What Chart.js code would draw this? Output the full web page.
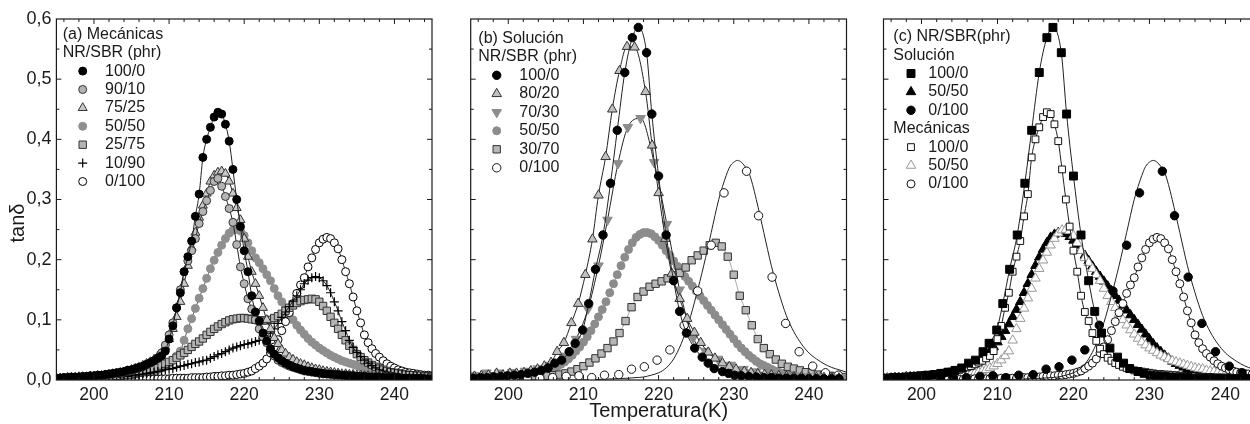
<!DOCTYPE html>
<html>
<head>
<meta charset="utf-8">
<script src="https://cdn.jsdelivr.net/npm/chart.js@4.4.1/dist/chart.umd.min.js"></script>
<style>
  html, body { margin: 0; padding: 0; background: #fff; width: 1250px; height: 424px; overflow: hidden; }
  .panel { position: absolute; top: 0; }
</style>
</head>
<body>
<canvas class="panel" id="panelA" width="440" height="424" style="left:0px"></canvas>
<canvas class="panel" id="panelB" width="410" height="424" style="left:450px"></canvas>
<canvas class="panel" id="panelC" width="400" height="424" style="left:870px"></canvas>
<script>
const FONT = '"Liberation Sans", Arial, sans-serif';

// axis ticks
const xTicks = [200, 210, 220, 230, 240];
const yTicks = [0, 0.1, 0.2, 0.3, 0.4, 0.5, 0.6];

// fine temperature grid (K), every 0.5 K
const tempFine = [
  195,195.5,196,196.5,197,197.5,198,198.5,199,199.5,
  200,200.5,201,201.5,202,202.5,203,203.5,204,204.5,
  205,205.5,206,206.5,207,207.5,208,208.5,209,209.5,
  210,210.5,211,211.5,212,212.5,213,213.5,214,214.5,
  215,215.5,216,216.5,217,217.5,218,218.5,219,219.5,
  220,220.5,221,221.5,222,222.5,223,223.5,224,224.5,
  225,225.5,226,226.5,227,227.5,228,228.5,229,229.5,
  230,230.5,231,231.5,232,232.5,233,233.5,234,234.5,
  235,235.5,236,236.5,237,237.5,238,238.5,239,239.5,
  240,240.5,241,241.5,242,242.5,243,243.5,244,244.5,245];

// (a) mezclas mecánicas, tan delta on tempFine
const mec100_0 = [
  .003,.003,.004,.004,.005,.005,.005,.006,.006,.007,
  .007,.008,.008,.009,.010,.011,.012,.013,.014,.016,
  .017,.019,.021,.023,.026,.029,.032,.036,.040,.048,
  .068,.090,.120,.145,.180,.205,.231,.272,.309,.370,
  .400,.420,.437,.445,.442,.425,.397,.350,.300,.255,
  .215,.180,.140,.113,.098,.078,.065,.052,.043,.037,
  .032,.028,.025,.022,.020,.018,.016,.015,.014,.013,
  .012,.011,.010,.010,.009,.009,.008,.008,.007,.007,
  .006,.006,.006,.005,.005,.005,.005,.004,.004,.004,
  .004,.004,.003,.003,.003,.003,.003,.003,.002,.002,.002];
const mec90_10 = [
  .003,.003,.003,.004,.004,.004,.005,.005,.005,.006,
  .006,.007,.007,.008,.009,.010,.011,.012,.013,.015,
  .016,.018,.020,.022,.025,.028,.032,.037,.045,.058,
  .075,.095,.120,.150,.180,.198,.215,.235,.260,.280,
  .298,.315,.330,.335,.322,.305,.285,.262,.225,.188,
  .160,.135,.118,.100,.085,.072,.062,.050,.040,.033,
  .029,.026,.023,.021,.019,.017,.015,.014,.013,.012,
  .011,.010,.010,.009,.009,.008,.008,.007,.007,.007,
  .006,.006,.006,.005,.005,.005,.005,.004,.004,.004,
  .004,.004,.003,.003,.003,.003,.003,.003,.002,.002,.002];
const mec75_25 = [
  .003,.003,.003,.004,.004,.004,.005,.005,.005,.006,
  .006,.007,.007,.008,.009,.010,.011,.012,.013,.015,
  .017,.019,.021,.024,.027,.030,.034,.039,.045,.055,
  .068,.085,.105,.130,.160,.190,.220,.245,.270,.290,
  .310,.330,.340,.345,.347,.343,.330,.310,.286,.266,
  .235,.205,.180,.160,.140,.120,.100,.085,.070,.060,
  .050,.044,.038,.034,.030,.027,.025,.022,.020,.018,
  .017,.015,.014,.013,.012,.011,.010,.010,.009,.009,
  .008,.008,.007,.007,.006,.006,.006,.005,.005,.005,
  .004,.004,.004,.004,.003,.003,.003,.003,.003,.003,.003];
const mec50_50 = [
  .002,.002,.002,.003,.003,.003,.003,.004,.004,.004,
  .004,.004,.005,.005,.005,.006,.006,.006,.007,.007,
  .007,.008,.009,.010,.011,.013,.015,.017,.020,.023,
  .027,.033,.040,.048,.066,.085,.102,.119,.136,.152,
  .169,.185,.199,.212,.224,.235,.244,.249,.250,.248,
  .240,.228,.215,.203,.195,.185,.175,.165,.152,.140,
  .130,.120,.110,.100,.091,.083,.076,.069,.063,.058,
  .053,.049,.045,.041,.038,.035,.032,.030,.028,.026,
  .024,.022,.020,.019,.018,.016,.015,.014,.013,.012,
  .011,.010,.010,.009,.008,.008,.007,.007,.006,.006,.005];
const mec25_75 = [
  .002,.002,.002,.003,.003,.003,.003,.004,.004,.004,
  .004,.005,.005,.005,.006,.006,.007,.007,.008,.009,
  .009,.010,.012,.013,.015,.017,.019,.021,.024,.027,
  .030,.033,.037,.041,.045,.050,.055,.060,.064,.069,
  .075,.080,.085,.089,.093,.096,.099,.101,.102,.103,
  .103,.102,.101,.100,.099,.099,.099,.100,.103,.106,
  .110,.115,.120,.124,.128,.131,.133,.134,.135,.134,
  .130,.123,.115,.105,.095,.085,.075,.066,.057,.050,
  .043,.038,.033,.029,.025,.022,.019,.017,.015,.013,
  .012,.011,.010,.009,.008,.008,.007,.007,.006,.006,.005];
const mec10_90 = [
  .001,.001,.001,.002,.002,.002,.002,.002,.003,.003,
  .003,.003,.004,.004,.004,.005,.005,.005,.006,.006,
  .007,.008,.009,.010,.011,.012,.013,.014,.015,.017,
  .018,.019,.021,.023,.024,.026,.027,.029,.030,.032,
  .033,.036,.039,.042,.044,.047,.050,.053,.055,.057,
  .059,.060,.062,.064,.066,.069,.073,.078,.085,.094,
  .104,.113,.122,.131,.140,.150,.160,.166,.170,.172,
  .170,.165,.157,.145,.130,.115,.097,.082,.066,.054,
  .046,.039,.033,.028,.024,.020,.017,.015,.013,.012,
  .011,.010,.009,.008,.007,.007,.006,.006,.005,.005,.005];
const mec0_100 = [
  .001,.001,.001,.001,.001,.001,.001,.001,.001,.001,
  .001,.001,.001,.001,.001,.001,.001,.001,.001,.001,
  .001,.001,.001,.002,.002,.002,.002,.002,.002,.002,
  .002,.003,.003,.003,.003,.003,.004,.004,.004,.004,
  .005,.005,.006,.006,.007,.007,.008,.008,.009,.010,
  .011,.013,.015,.019,.023,.028,.035,.045,.055,.067,
  .082,.097,.112,.127,.144,.158,.170,.188,.203,.217,
  .228,.234,.237,.235,.228,.218,.200,.180,.160,.138,
  .115,.095,.075,.062,.052,.044,.038,.032,.027,.023,
  .020,.017,.015,.013,.012,.011,.010,.009,.008,.008,.007];

// (b) mezclas en solución
const solT100 = [195.4,196.3,197.2,198.1,199,199.9,200.8,201.7,202.6,203.5,204.4,205.3,206.2,207.1,208.1,208.9,209.9,210.7,211.6,212.6,213.6,214.5,215.5,216.5,217.3,218.4,219.1,220,221,222,222.8,223.7,224.8,225.8,226.6,227.4,228.5,229.3,230.1,231,232,233,234,235,236,237,238,239,240,241,242,243,244];
const sol100_0 = [.003,.004,.004,.005,.006,.007,.008,.009,.011,.013,.016,.020,.028,.033,.047,.061,.083,.127,.184,.241,.327,.415,.511,.569,.586,.544,.442,.339,.241,.165,.114,.078,.053,.038,.028,.019,.014,.011,.008,.007,.006,.005,.004,.004,.003,.003,.003,.003,.002,.002,.002,.002,.002];
const solT80 = [195.5,196.4,197.35,198.45,199.3,200.2,201.1,202.1,203,203.9,204.8,205.7,206.5,207.4,208.4,209.3,210.25,211.2,212,212.95,213.84,214.8,215.8,216.8,218.26,219.14,220,220.9,221.75,222.8,223.8,224.76,225.6,226.6,227.5,228.5,229.4,230.3,231.4,232.3,233.2,234.1,235,236,237,238,239,240,241,242,243,244];
const sol80_20 = [.006,.007,.008,.011,.008,.011,.011,.012,.015,.018,.023,.029,.047,.062,.095,.127,.175,.234,.307,.371,.450,.514,.554,.553,.479,.390,.311,.235,.177,.135,.102,.079,.062,.046,.036,.028,.022,.018,.014,.012,.010,.009,.008,.007,.006,.005,.005,.004,.004,.004,.003,.003];
const solT70 = [195.4,197.1,198.8,200.5,202.2,203.9,205.6,207.3,209,210.6,212,213.2,214.6,215.9,217.6,219.4,221.1,222.8,224.6,226.2,227.9,229.6,231.3,233,234.7,236.4,238.1,239.8,241.5,243.2,244.9];
const sol70_30 = [.008,.012,.012,.013,.015,.019,.025,.040,.068,.118,.190,.266,.360,.420,.435,.362,.259,.150,.070,.048,.035,.025,.018,.014,.011,.009,.007,.006,.005,.004,.004];
const sol50_50 = [
  .003,.003,.003,.004,.004,.004,.005,.005,.005,.005,
  .005,.006,.006,.007,.008,.009,.010,.011,.012,.014,
  .014,.016,.019,.022,.026,.030,.035,.041,.048,.055,
  .063,.072,.082,.093,.105,.117,.130,.145,.160,.175,
  .190,.204,.217,.228,.237,.242,.245,.245,.243,.238,
  .232,.224,.215,.207,.198,.189,.180,.172,.164,.156,
  .148,.140,.132,.124,.116,.108,.100,.092,.084,.076,
  .068,.060,.053,.047,.041,.036,.031,.027,.024,.021,
  .018,.015,.013,.011,.010,.009,.008,.007,.006,.006,
  .005,.005,.005,.004,.004,.004,.004,.003,.003,.003,.003];
const solT30 = [195.6,196.4,197.2,198,198.8,199.6,200.4,201.2,202,202.8,203.6,204.4,205.2,206,206.8,207.6,208.4,209.2,210,210.8,211.6,212.4,213.2,214,214.8,215.6,216.4,217.2,218,218.8,219.6,220.4,221.2,222,222.8,223.6,224.4,225.2,226,226.8,227.6,228.4,229.2,230,230.8,231.6,232.4,233.2,234,234.8,235.6,236.4,237.2,238,238.8,239.6,240.4,241.2,242,242.8,243.6,244.4];
const sol30_70 = [.002,.002,.002,.003,.003,.003,.004,.004,.004,.005,.005,.006,.007,.008,.009,.011,.014,.018,.023,.029,.036,.044,.053,.064,.078,.098,.121,.138,.147,.155,.160,.164,.169,.174,.178,.187,.199,.207,.215,.224,.228,.222,.205,.175,.140,.116,.091,.068,.053,.043,.034,.027,.022,.019,.016,.013,.011,.009,.008,.007,.006,.005];
const solT0 = [195.6,197.3,199,200.7,202.5,204.2,205.9,207.7,209.4,211.1,212.8,214.7,216.4,218.1,219.8,221.5,223.4,225.2,227,228.7,231.7,233.3,235.1,236.9,238.7,240.5,242.2,243.9];
const sol0_100 = [.001,.001,.002,.002,.002,.003,.004,.006,.007,.004,.008,.009,.018,.022,.033,.050,.091,.148,.224,.311,.347,.273,.171,.094,.047,.023,.012,.008];
// fitted curve drawn through the 0/100 solution points
const fitT0 = [195,205,210,212,214,216,217,218,219,220,221,222,223,224,225,226,227,228,229,229.5,230,230.5,231,231.5,232,232.5,233,234,235,236,237,238,239,240,241,242,243,244,245];
const fit0_100 = [0,0,0,.001,.002,.003,.004,.005,.008,.012,.020,.035,.060,.095,.140,.190,.245,.300,.340,.355,.362,.365,.362,.355,.345,.325,.300,.245,.190,.145,.107,.080,.060,.045,.035,.027,.021,.017,.013];

function series(t, v, m, line) {
  return {
    data: t.map((x, i) => ({ x: x, y: v[i] })),
    showLine: !!line,
    borderColor: line || '#000',
    borderWidth: 1,
    cubicInterpolationMode: 'monotone',
    fill: false,
    pointStyle: m ? m.style : 'circle',
    pointRadius: m ? m.r : 0,
    pointRotation: m && m.rot ? m.rot : 0,
    pointBackgroundColor: m ? m.fill : '#000',
    pointBorderColor: m ? m.stroke : '#000',
    pointBorderWidth: m ? m.bw : 0
  };
}

const framePlugin = {
  id: 'frame',
  afterDatasetsDraw(chart, args, o) {
    const ctx = chart.ctx, a = chart.chartArea;
    const xs = chart.scales.x, ys = chart.scales.y;
    ctx.save();
    ctx.strokeStyle = '#1a1a1a';
    ctx.lineWidth = 1.2;
    ctx.strokeRect(a.left, a.top, a.right - a.left, a.bottom - a.top);
    ctx.lineWidth = 1;
    ctx.beginPath();
    for (let t = 196; t <= 244; t += 2) {
      const px = xs.getPixelForValue(t);
      const len = t % 10 === 0 ? 5 : 3;
      ctx.moveTo(px, a.bottom); ctx.lineTo(px, a.bottom - len);
      ctx.moveTo(px, a.top); ctx.lineTo(px, a.top + len);
    }
    for (let k = 1; k < 12; k++) {
      const py = ys.getPixelForValue(k * 0.05);
      const len = k % 2 === 0 ? 5 : 3;
      ctx.moveTo(a.left, py); ctx.lineTo(a.left + len, py);
      ctx.moveTo(a.right, py); ctx.lineTo(a.right - len, py);
    }
    ctx.stroke();

    ctx.font = '16px ' + FONT;
    ctx.textBaseline = 'middle';
    ctx.textAlign = 'left';
    ctx.fillStyle = '#1a1a1a';
    o.legend.forEach((it, k) => {
      const yy = o.top + k * o.step;
      if (it.ds === undefined) {
        ctx.fillText(it.text, a.left + o.headX, yy);
        return;
      }
      ctx.fillText(it.text, a.left + o.textX, yy);
      const p = chart.getDatasetMeta(it.ds).data[0].options;
      ctx.save();
      ctx.fillStyle = p.backgroundColor;
      ctx.strokeStyle = p.borderColor;
      ctx.lineWidth = p.borderWidth;
      Chart.helpers.drawPoint(ctx, { pointStyle: p.pointStyle, rotation: p.rotation, radius: p.radius, borderWidth: p.borderWidth }, a.left + o.markX, yy);
      ctx.restore();
    });

    if (o.yTitle) {
      ctx.translate(18, 223);
      ctx.rotate(-Math.PI / 2);
      ctx.textAlign = 'center';
      ctx.font = '20px ' + FONT;
      ctx.fillText(o.yTitle, 0, 0);
    }
    ctx.restore();
  }
};

function makePanel(id, datasets, cfg) {
  return new Chart(document.getElementById(id), {
    type: 'line',
    data: { datasets: datasets },
    options: {
      responsive: false,
      animation: false,
      events: [],
      layout: { padding: { left: 0, right: cfg.padRight, top: 19, bottom: 0 } },
      plugins: {
        legend: { display: false },
        tooltip: { enabled: false },
        frame: cfg.frame
      },
      scales: {
        x: {
          type: 'linear', min: 195, max: 245,
          afterBuildTicks: s => { s.ticks = xTicks.map(v => ({ value: v })); },
          afterFit: s => { s.height = 44; },
          grid: { display: false, drawTicks: false },
          border: { display: false },
          ticks: { color: '#1a1a1a', padding: 5, font: { family: FONT, size: 17.5 } },
          title: {
            display: !!cfg.xTitle, text: cfg.xTitle || '', color: '#1a1a1a',
            padding: { top: 0, bottom: 1 }, font: { family: FONT, size: 20 }
          }
        },
        y: {
          type: 'linear', min: 0, max: 0.6,
          afterBuildTicks: s => { s.ticks = yTicks.map(v => ({ value: v })); },
          afterFit: s => { s.width = cfg.yWidth; },
          grid: { display: false, drawTicks: false },
          border: { display: false },
          ticks: {
            display: cfg.yLabels, color: '#1a1a1a', padding: 5,
            font: { family: FONT, size: 18 },
            callback: v => v.toFixed(1).replace('.', ',')
          }
        }
      }
    },
    plugins: [framePlugin]
  });
}

// styles
const BLACK = '#000', DARK = '#222';
const mk = (style, r, fill, stroke, bw, rot) => ({ style, r, fill, stroke, bw, rot });

// panel (a)
makePanel('panelA', [
  series(tempFine, mec100_0, mk('circle', 4, BLACK, BLACK, 1), DARK),
  series(tempFine, mec90_10, mk('circle', 4, '#b4b4b4', '#333', 1), DARK),
  series(tempFine, mec75_25, mk('triangle', 5.2, '#c8c8c8', '#333', 1), DARK),
  series(tempFine, mec10_90, mk('cross', 4.5, BLACK, BLACK, 1.2), DARK),
  series(tempFine, mec25_75, mk('rect', 5.2, '#b4b4b4', '#333', 1), DARK),
  series(tempFine, mec0_100, mk('circle', 4, '#fff', BLACK, 1), DARK),
  series(tempFine, mec50_50, mk('circle', 4, '#8f8f8f', '#8f8f8f', 1), '#555')
], {
  padRight: 8, yWidth: 56.4, yLabels: true,
  frame: {
    top: 34.3, step: 18.4, headX: 6.3, markX: 26.3, textX: 48.6, yTitle: 'tanδ',
    legend: [
      { text: '(a) Mecánicas' }, { text: 'NR/SBR (phr)' },
      { text: '100/0', ds: 0 }, { text: '90/10', ds: 1 }, { text: '75/25', ds: 2 },
      { text: '50/50', ds: 6 }, { text: '25/75', ds: 4 }, { text: '10/90', ds: 3 },
      { text: '0/100', ds: 5 }
    ]
  }
});

// panel (b)
makePanel('panelB', [
  series(solT100, sol100_0, mk('circle', 4.2, BLACK, BLACK, 1), DARK),
  series(solT80, sol80_20, mk('triangle', 5.5, '#c0c0c0', '#333', 1), DARK),
  series(solT70, sol70_30, mk('triangle', 5.5, '#8c8c8c', '#8c8c8c', 1, 180), DARK),
  series(solT0, sol0_100, mk('circle', 4.2, '#fff', '#111', 1), null),
  series(fitT0, fit0_100, null, DARK),
  series(solT30, sol30_70, mk('rect', 5.2, '#b8b8b8', '#333', 1), '#aaa'),
  series(tempFine, sol50_50, mk('circle', 4, '#8c8c8c', '#8c8c8c', 1), '#999')
], {
  padRight: 13.5, yWidth: 20.7, yLabels: false, xTitle: 'Temperatura(K)',
  frame: {
    top: 38.3, step: 18.5, headX: 7.6, markX: 26, textX: 48.6,
    legend: [
      { text: '(b) Solución' }, { text: 'NR/SBR (phr)' },
      { text: '100/0', ds: 0 }, { text: '80/20', ds: 1 }, { text: '70/30', ds: 2 },
      { text: '50/50', ds: 6 }, { text: '30/70', ds: 5 }, { text: '0/100', ds: 3 }
    ]
  }
});

// panel (c)
makePanel('panelC', [
  series(solT100, sol100_0, mk('rect', 5.6, BLACK, BLACK, 1), DARK),
  series(tempFine, mec100_0, mk('rect', 4.8, '#fff', '#111', 1), DARK),
  series(solT0, sol0_100, mk('circle', 4.2, BLACK, BLACK, 1), null),
  series(fitT0, fit0_100, null, DARK),
  series(tempFine, mec0_100, mk('circle', 4, '#fff', '#111', 1), DARK),
  series(tempFine, mec50_50, mk('triangle', 5.5, '#fff', '#999', 1), null),
  series(tempFine, sol50_50, mk('triangle', 5.5, BLACK, BLACK, 1), null)
], {
  padRight: 5, yWidth: 13.5, yLabels: false,
  frame: {
    top: 36.7, step: 18.4, headX: 9.8, markX: 27.5, textX: 44.8,
    legend: [
      { text: '(c) NR/SBR(phr)' }, { text: 'Solución' },
      { text: '100/0', ds: 0 }, { text: '50/50', ds: 6 }, { text: '0/100', ds: 2 },
      { text: 'Mecánicas' },
      { text: '100/0', ds: 1 }, { text: '50/50', ds: 5 }, { text: '0/100', ds: 4 }
    ]
  }
});
</script>
</body>
</html>
